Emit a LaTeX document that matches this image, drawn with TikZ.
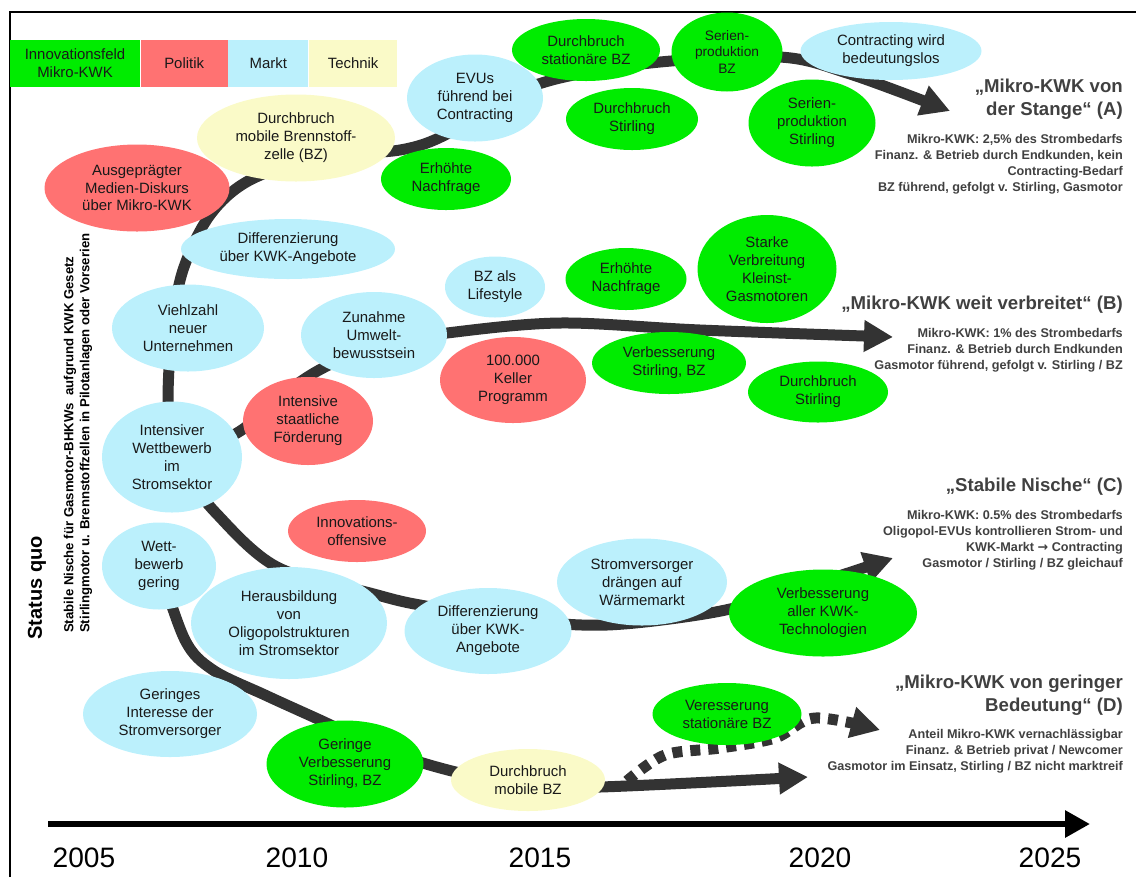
\documentclass[tikz,border=0pt]{standalone}
\usepackage{fontspec}
\setmainfont{Liberation Sans}
\newfontfamily\symfont{DejaVu Sans}
\usetikzlibrary{shapes.geometric}
\usetikzlibrary{arrows.meta}
\usetikzlibrary{positioning}
\usetikzlibrary{backgrounds}
\definecolor{kwkgreen}{RGB}{0,236,0}
\definecolor{polred}{RGB}{255,114,114}
\definecolor{mktblue}{RGB}{187,240,252}
\definecolor{techyellow}{RGB}{250,250,200}
\definecolor{trendgray}{RGB}{51,51,51}
\definecolor{headgray}{RGB}{64,64,64}
\def\mylw{0.22cm}
\def\mypx{0.02cm}
\tikzset{
sz/.style 2 args={minimum width=#1*\mypx,minimum height=#2*\mypx},
my node/.style={ellipse,inner sep=0pt,align=center,text=black!90,
  font=\fontsize{8.5}{10.2}\selectfont},
feld/.style={my node,fill=kwkgreen},
politik/.style={my node,fill=polred},
markt/.style={my node,fill=mktblue},
technik/.style={my node,fill=techyellow},
legend/.style={rectangle,inner sep=0pt,align=center,text=black!90,
  font=\fontsize{8.5}{10.2}\selectfont},
trend/.style={line width=\mylw,draw=trendgray,-{Triangle[length=0.58cm,width=0.6cm]}},
headline/.style={anchor=east,align=right,text=headgray,
  font=\fontsize{10.6}{13.1}\selectfont\bfseries},
detail/.style={anchor=east,align=right,text=headgray,
  font=\fontsize{7.2}{9.1}\selectfont\bfseries},
year/.style={font=\fontsize{16}{16}\selectfont}
}

\begin{document}
\begin{tikzpicture}[x=\mypx,y=-\mypx]
\useasboundingbox (0,0) rectangle (1136,877);
\draw[line width=0.04cm] (10,877) |- (1136,12);
% legend
\node[legend,fill=kwkgreen,sz={130}{47}] (lgfeld) at (75,63.5) {Innovationsfeld\\Mikro-KWK};
\node[legend,fill=polred,sz={87}{47},right=0pt of lgfeld] (lgpol) {Politik};
\node[legend,fill=mktblue,sz={80}{47},right=0pt of lgpol] (lgmkt) {Markt};
\node[legend,fill=techyellow,sz={88}{47},right=0pt of lgmkt] (lgtech) {Technik};
% status quo
\node[rotate=90,font=\fontsize{11.4}{12}\selectfont\bfseries] (sq) at (37,588) {Status quo};
\node[rotate=90,anchor=west,align=left,font=\fontsize{7.5}{9}\selectfont\bfseries] (nische) at (78,639)
  {Stabile Nische für Gasmotor-BHKWs \ aufgrund KWK Gesetz\\Stirlingmotor u. Brennstoffzellen in Pilotanlagen oder Vorserien};
% scenario A
\node[technik,sz={198}{87}] (bzmob) at (296,138) {Durchbruch\\mobile Brennstoff-\\zelle (BZ)};
\node[politik,sz={185}{87}] (medien) at (137,188) {Ausgeprägter\\Medien-Diskurs\\über Mikro-KWK};
\node[markt,sz={214}{60}] (diffa) at (288,249) {Differenzierung\\über KWK-Angebote};
\node[markt,sz={136}{87}] (evu) at (475,98) {EVUs\\führend bei\\Contracting};
\node[feld,sz={130}{62}] (nachfa) at (446,179) {Erhöhte\\Nachfrage};
\node[feld,sz={148}{62}] (statbz) at (586,50) {Durchbruch\\stationäre BZ};
\node[feld,sz={132}{62}] (stirla) at (632,119) {Durchbruch\\Stirling};
\node[feld,sz={111}{79},font=\fontsize{7.8}{9.3}\selectfont] (serbz) at (727,52) {Serien-\\produktion\\BZ};
\node[feld,sz={127}{87}] (serst) at (812,123) {Serien-\\produktion\\Stirling};
\node[markt,sz={181}{58}] (contr) at (891,51) {Contracting wird\\bedeutungslos};
% scenario B
\node[markt,sz={152}{87}] (viel) at (188,328) {Viehlzahl\\neuer\\Unternehmen};
\node[markt,sz={140}{111}] (ww) at (172,457) {Intensiver\\Wettbewerb\\im\\Stromsektor};
\node[politik,sz={130}{88}] (foerd) at (308,421) {Intensive\\staatliche\\Förderung};
\node[markt,sz={146}{86}] (umwelt) at (374,335) {Zunahme\\Umwelt-\\bewusstsein};
\node[markt,sz={100}{61}] (life) at (495,287) {BZ als\\Lifestyle};
\node[politik,sz={146}{86}] (keller) at (513,380) {100.000\\Keller\\Programm};
\node[feld,sz={121}{62}] (nachfb) at (626,279) {Erhöhte\\Nachfrage};
\node[feld,sz={139}{108}] (gasmot) at (767,269) {Starke\\Verbreitung\\Kleinst-\\Gasmotoren};
\node[feld,sz={154}{62}] (verbb) at (669,363) {Verbesserung\\Stirling, BZ};
\node[feld,sz={140}{61}] (stirlb) at (818,392) {Durchbruch\\Stirling};
% scenario C
\node[politik,sz={138}{62}] (innoff) at (357,531) {Innovations-\\offensive};
\node[markt,sz={114}{87}] (wgering) at (159,566) {Wett-\\bewerb\\gering};
\node[markt,sz={196}{112}] (oligo) at (289,623) {Herausbildung\\von\\Oligopolstrukturen\\im Stromsektor};
\node[markt,sz={167}{86}] (diffc) at (488,631) {Differenzierung\\über KWK-\\Angebote};
\node[markt,sz={170}{87}] (waerme) at (642,582) {Stromversorger\\drängen auf\\Wärmemarkt};
\node[feld,sz={188}{87}] (allekwk) at (823,613) {Verbesserung\\aller KWK-\\Technologien};
% scenario D
\node[markt,sz={174}{86}] (interesse) at (170,714) {Geringes\\Interesse der\\Stromversorger};
\node[feld,sz={157}{87}] (gervb) at (345,764) {Geringe\\Verbesserung\\Stirling, BZ};
\node[technik,sz={154}{62}] (mobbz) at (528,780) {Durchbruch\\mobile BZ};
\node[feld,sz={149}{62}] (statd) at (727,714) {Veresserung\\stationäre BZ};
% outcomes
\node[headline] (hda) at (1129,99) {„Mikro-KWK von\\der Stange“ (A)};
\node[detail] (dta) at (1129,164) {Mikro-KWK: 2,5\% des Strombedarfs\\Finanz. \& Betrieb durch Endkunden, kein\\Contracting-Bedarf\\BZ führend, gefolgt v. Stirling, Gasmotor};
\node[headline] (hdb) at (1129,305) {„Mikro-KWK weit verbreitet“ (B)};
\node[detail] (dtb) at (1129,350) {Mikro-KWK: 1\% des Strombedarfs\\Finanz. \& Betrieb durch Endkunden\\Gasmotor führend, gefolgt v. Stirling / BZ};
\node[headline] (hdc) at (1129,487) {„Stabile Nische“ (C)};
\node[detail] (dtc) at (1129,540) {Mikro-KWK: 0.5\% des Strombedarfs\\Oligopol-EVUs kontrollieren Strom- und\\KWK-Markt {\symfont\bfseries →} Contracting\\Gasmotor / Stirling / BZ gleichauf};
\node[headline] (hdd) at (1129,695) {„Mikro-KWK von geringer\\Bedeutung“ (D)};
\node[detail] (dtd) at (1129,751) {Anteil Mikro-KWK vernachlässigbar\\Finanz. \& Betrieb privat / Newcomer\\Gasmotor im Einsatz, Stirling / BZ nicht marktreif};
% time axis
\coordinate (t0) at (48,824);
\coordinate (t1) at (1090,824);
\draw[line width=0.12cm,-{Triangle[length=0.5cm,width=0.52cm]}] (t0) -- (t1);
\node[year] (y05) at (84,858) {2005};
\node[year] (y10) at (297,858) {2010};
\node[year] (y15) at (540,858) {2015};
\node[year] (y20) at (820,858) {2020};
\node[year] (y25) at (1050,858) {2025};
% trends
\coordinate (tipA) at (950,111);
\coordinate (tipB) at (893,337);
\coordinate (tipC) at (893,558);
\coordinate (tipD) at (808,777);
\coordinate (dsplit) at (627,781);
\coordinate (tipE) at (880,730);
\begin{scope}[on background layer]
\draw[trend] plot[smooth,tension=0.55] coordinates {(ww.center) (168,400) (172,330) (183,270)
  (210,215) (250,180) (320,157) (400,150) (445,135) (500,100) (560,78) (660,62) (780,57) (850,74) (tipA)};
\draw[trend] plot[smooth,tension=0.55] coordinates {(ww.center) (237,433) (300,382) (345,358)
  (400,342) (447,333) (560,323) (700,330) (tipB)};
\draw[trend] plot[smooth,tension=0.55] coordinates {(ww.center) (215,512) (277,567) (370,593)
  (420,605) (520,620) (607,625) (710,613) (780,595) (tipC)};
\draw[trend] plot[smooth,tension=0.55] coordinates {(wgering.center) (185,640) (213,670) (265,695)
  (320,720) (390,752) (460,773) (530,785) (600,787) (tipD)};
\draw[trend,dash pattern=on 0.2cm off 0.16cm] plot[smooth,tension=0.55] coordinates {(dsplit) (665,755)
  (720,748) (775,738) (815,718) (tipE)};
\end{scope}
\end{tikzpicture}
\end{document}
